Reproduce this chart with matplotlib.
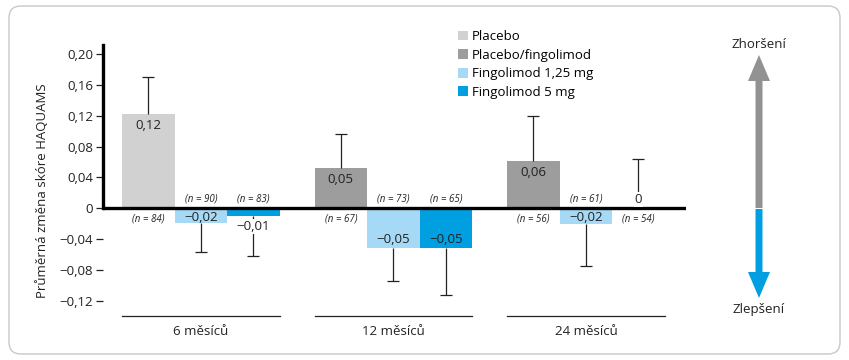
import numpy as np
import matplotlib
matplotlib.use("Agg")
import matplotlib.pyplot as plt
from matplotlib.patches import Patch, FancyBboxPatch, FancyArrow
from matplotlib.ticker import FuncFormatter

plt.rcParams["font.family"] = ["Open Sans", "DejaVu Sans"]

# data
groups = ["6 měsíců", "12 měsíců", "24 měsíců"]
series = ["Placebo", "Placebo/fingolimod", "Fingolimod 1,25 mg", "Fingolimod 5 mg"]
colors = ["#d1d1d1", "#9d9d9d", "#a6d9f6", "#009fe1"]
# slot 0 of each group is either placebo or placebo/fingolimod
slot_series = [[0, 2, 3], [1, 2, 3], [1, 2, 3]]
values = [[0.12, -0.02, -0.01], [0.05, -0.05, -0.05], [0.06, -0.02, 0.0]]
bar_heights = [[0.122, -0.0195, -0.0105], [0.052, -0.0515, -0.0515], [0.061, -0.020, 0.0]]
err_ends = [[0.170, -0.057, -0.062], [0.097, -0.094, -0.112], [0.120, -0.075, 0.064]]
n_labels = [[84, 90, 83], [67, 73, 65], [56, 61, 54]]
yticks = [0.20, 0.16, 0.12, 0.08, 0.04, 0, -0.04, -0.08, -0.12]


def fmt(v, pos=None):
    if abs(v) < 1e-9:
        return "0"
    s = f"{abs(v):.2f}".replace(".", ",")
    return ("\u2212" if v < 0 else "") + s


W, H = 849, 360
fig = plt.figure(figsize=(W / 100, H / 100), dpi=100)
ax = fig.add_axes([103 / W, 1 - 320 / H, (686 - 103) / W, (320 - 45) / H])

txt = dict(fontsize=9.5, color="#222222", zorder=6)
white = dict(facecolor="white", edgecolor="none", pad=0.6)

group_gap = 3.667
for g, grp in enumerate(groups):
    x0 = g * group_gap
    for k in range(3):
        x = x0 + k + 0.5
        h = bar_heights[g][k]
        ax.bar(x, h, width=1.0, color=colors[slot_series[g][k]], zorder=2)
        # one-sided error bar
        e = err_ends[g][k]
        base = max(h, 0) if e >= 0 else min(h, 0)
        ax.plot([x, x], [base, e], color="#222222", lw=0.9, zorder=3,
                solid_capstyle="butt")
        ax.plot([x], [e], marker="_", markersize=8, mew=0.9, color="#222222",
                zorder=3)
        # value label
        v = values[g][k]
        if v > 0:
            ax.text(x, h - 0.006, fmt(v), ha="center", va="top", **txt)
        elif v == 0:
            ax.text(x, 0.0115, fmt(v), ha="center", va="center", bbox=white, **txt)
        elif h < -0.03:
            ax.text(x, h + 0.003, fmt(v), ha="center", va="bottom", **txt)
        elif h < -0.015:
            ax.text(x, -0.0115, fmt(v), ha="center", va="center", **txt)
        else:
            ax.text(x, -0.0235, fmt(v), ha="center", va="center", bbox=white, **txt)
        # n label
        nl = f"(n = {n_labels[g][k]})"
        ny = -0.0135 if v >= 0 else 0.0125
        ax.text(x, ny, nl, ha="center", va="center", fontsize=7,
                style="italic", color="#222222")
    # group underline + label
    ax.plot([x0, x0 + 3], [-0.14, -0.14], color="#222222", lw=0.9, clip_on=False)
    ax.text(x0 + 1.5, -0.1605, grp, ha="center", va="center", fontsize=9.5,
            color="#222222", clip_on=False)

ax.axhline(0, color="black", lw=2.4, zorder=5)
ax.set_xlim(-0.362, 10.74)
ax.set_ylim(-0.145, 0.212)
ax.set_yticks(yticks)
ax.yaxis.set_major_formatter(FuncFormatter(fmt))
ax.tick_params(axis="y", direction="out", length=5, width=0.9, labelsize=9.5,
               colors="#222222", pad=2)
ax.set_xticks([])
for s in ["top", "right", "bottom"]:
    ax.spines[s].set_visible(False)
ax.spines["left"].set_bounds(0, 0.212)
ax.spines["left"].set_linewidth(2.4)
ax.set_ylabel("Průměrná změna skóre HAQUAMS", fontsize=9.5, color="#222222",
              labelpad=6)
ax.yaxis.set_label_coords(-0.093, 0.47)
ax.patch.set_alpha(0)

handles = [Patch(facecolor=c, edgecolor="none") for c in colors]
fig.legend(handles, series, loc="upper left", bbox_to_anchor=(449 / W, 1 - 21 / H),
           frameon=False, fontsize=9.5, handlelength=0.75, handleheight=0.75,
           handletextpad=0.3, labelspacing=0.42, borderpad=0.2)

# overlay for border and arrows
ov = fig.add_axes([0, 0, 1, 1], zorder=-1)
ov.set_xlim(0, W)
ov.set_ylim(H, 0)
ov.axis("off")
ov.add_patch(FancyBboxPatch((9, 6), 831, 348, boxstyle="round,pad=0,rounding_size=12",
                            facecolor="white", edgecolor="#c8c8c8", lw=1.0))
ov.add_patch(FancyArrow(759, 208, 0, -153, width=7, head_width=22, head_length=26,
                        length_includes_head=True, color="#929292", lw=0))
ov.add_patch(FancyArrow(759, 209, 0, 89, width=7, head_width=22, head_length=26,
                        length_includes_head=True, color="#009fe1", lw=0))
ov.text(759, 44, "Zhoršení", ha="center", va="center", fontsize=9.5, color="#222222")
ov.text(759, 310, "Zlepšení", ha="center", va="center", fontsize=9.5, color="#222222")

fig.savefig("out.png", dpi=100)
